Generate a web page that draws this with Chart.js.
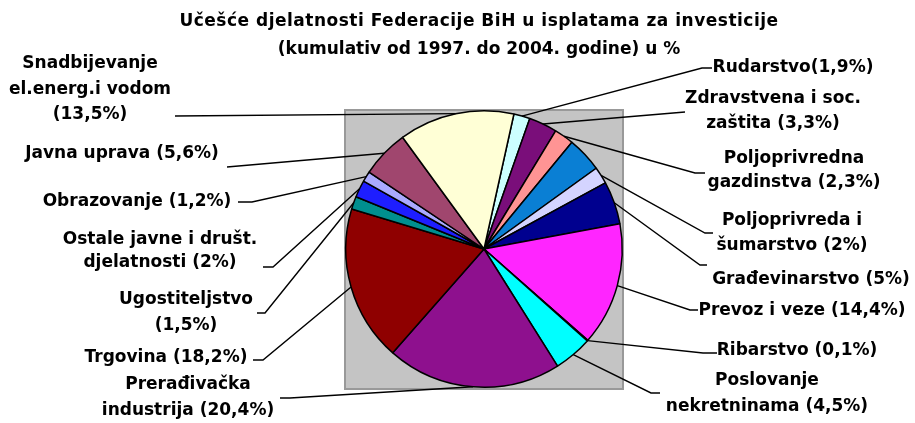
<!DOCTYPE html>
<html>
<head>
<meta charset="utf-8">
<title>Učešće djelatnosti Federacije BiH u isplatama za investicije</title>
<script src="https://cdn.jsdelivr.net/npm/chart.js@4.4.1/dist/chart.umd.min.js"></script>
<style>
  html, body { margin: 0; padding: 0; background: #fff; }
  #wrap { width: 915px; height: 423px; }
</style>
</head>
<body>
<div id="wrap"><canvas id="chart" width="915" height="423"></canvas></div>
<script>
// ── Data ────────────────────────────────────────────────────────────

const TITLE_LINES = [
  'Učešće djelatnosti Federacije BiH u isplatama za investicije',
  '(kumulativ od 1997. do 2004. godine) u %',
];

// slices clockwise, starting a little right of 12 o'clock
const CATEGORIES = [
  'Rudarstvo',
  'Zdravstvena i soc. zaštita',
  'Poljoprivredna gazdinstva',
  '',                                   // slice without a label in the original
  'Poljoprivreda i šumarstvo',
  'Građevinarstvo',
  'Prevoz i veze',
  'Ribarstvo',
  'Poslovanje nekretninama',
  'Prerađivačka industrija',
  'Trgovina',
  'Ugostiteljstvo',
  'Ostale javne i društ. djelatnosti',
  'Obrazovanje',
  'Javna uprava',
  'Snadbijevanje el.energ.i vodom',
];

const SHARES = [1.9, 3.3, 2.3, 4.1, 2, 5, 14.4, 0.1, 4.5, 20.4, 18.2, 1.5, 2, 1.2, 5.6, 13.5];

const COLORS = [
  '#CCFFFF', '#7A0E7A', '#FF9494', '#0A7FD4', '#D4D4FF', '#00008F', '#FF25FF', '#FFFF00',
  '#00FFFF', '#8E108E', '#8F0000', '#008F8F', '#1E1EFF', '#AAAAFF', '#A0466E', '#FFFFD6',
];

const LABEL_LINES = [
  ['Rudarstvo(1,9%)'],
  ['Zdravstvena i soc.', 'zaštita (3,3%)'],
  ['Poljoprivredna', 'gazdinstva (2,3%)'],
  null,
  ['Poljoprivreda i', 'šumarstvo (2%)'],
  ['Građevinarstvo (5%)'],
  ['Prevoz i veze (14,4%)'],
  ['Ribarstvo (0,1%)'],
  ['Poslovanje', 'nekretninama (4,5%)'],
  ['Prerađivačka', 'industrija (20,4%)'],
  ['Trgovina (18,2%)'],
  ['Ugostiteljstvo', '(1,5%)'],
  ['Ostale javne i društ.', 'djelatnosti (2%)'],
  ['Obrazovanje (1,2%)'],
  ['Javna uprava (5,6%)'],
  ['Snadbijevanje', 'el.energ.i vodom', '(13,5%)'],
];

// ── Label placement (x,y = centre of first line, ax/ay = leader end) ─

const LABEL_LAYOUT = [
  { x: 793, y: 68,  gap: 0,    ax: 712, ay: 68,  stub: 10 },
  { x: 773, y: 99,  gap: 25,   ax: 685, ay: 112, stub: 0  },
  { x: 794, y: 159, gap: 23.5, ax: 705, ay: 173, stub: 10 },
  null,
  { x: 792, y: 221, gap: 25,   ax: 713, ay: 233, stub: 8  },
  { x: 811, y: 280, gap: 0,    ax: 707, ay: 265, stub: 7  },
  { x: 802, y: 311, gap: 0,    ax: 698, ay: 310, stub: 8  },
  { x: 797, y: 351, gap: 0,    ax: 717, ay: 353, stub: 14 },
  { x: 767, y: 381, gap: 26,   ax: 660, ay: 393, stub: 9  },
  { x: 188, y: 385, gap: 25.5, ax: 280, ay: 398, stub: 10 },
  { x: 166, y: 358, gap: 0,    ax: 253, ay: 360, stub: 10 },
  { x: 186, y: 300, gap: 25.5, ax: 257, ay: 313, stub: 8  },
  { x: 160, y: 240, gap: 23,   ax: 263, ay: 267, stub: 10 },
  { x: 137, y: 202, gap: 0,    ax: 238, ay: 202, stub: 14 },
  { x: 122, y: 154, gap: 0,    ax: 227, ay: 167, stub: 0  },
  { x: 90,  y: 64,  gap: 25.5, ax: 175, ay: 116, stub: 0  },
];

const FONT = "bold 17px 'DejaVu Sans', Verdana, sans-serif";
const TITLE_SPACING = ['0.5px', '0px'];

// ── Plugins ─────────────────────────────────────────────────────────

// grey plot area behind the pie
const plotBox = {
  id: 'plotBox',
  beforeDatasetsDraw(chart) {
    const { ctx, chartArea: a } = chart;
    ctx.save();
    ctx.fillStyle = '#C4C4C4';
    ctx.fillRect(a.left, a.top, a.width, a.height + 1);
    ctx.strokeStyle = '#999999';
    ctx.lineWidth = 2;
    ctx.strokeRect(a.left, a.top, a.width, a.height + 1);
    ctx.restore();
  }
};

// title, outside labels and leader lines
const outsideLabels = {
  id: 'outsideLabels',
  afterDatasetsDraw(chart) {
    const ctx  = chart.ctx;
    const meta = chart.getDatasetMeta(0);

    ctx.save();
    ctx.font = FONT;
    ctx.fillStyle = '#000';
    ctx.textAlign = 'center';
    ctx.textBaseline = 'middle';
    TITLE_LINES.forEach((t, i) => {
      ctx.letterSpacing = TITLE_SPACING[i];
      ctx.fillText(t, 479, 22 + i * 28);
    });
    ctx.letterSpacing = '0px';

    ctx.strokeStyle = '#000';
    ctx.lineWidth = 1.4;
    meta.data.forEach((arc, i) => {
      const lay = LABEL_LAYOUT[i];
      const lines = LABEL_LINES[i];
      if (!lay || !lines) return;
      const p = arc.getProps(['x', 'y', 'startAngle', 'endAngle', 'outerRadius'], true);
      const mid = (p.startAngle + p.endAngle) / 2;
      const px = p.x + Math.cos(mid) * p.outerRadius;
      const py = p.y + Math.sin(mid) * p.outerRadius;
      const dir = lay.ax < p.x ? 1 : -1;

      ctx.beginPath();
      ctx.moveTo(px, py);
      ctx.lineTo(lay.ax + dir * lay.stub, lay.ay);
      ctx.lineTo(lay.ax, lay.ay);
      ctx.stroke();

      lines.forEach((t, k) => ctx.fillText(t, lay.x, lay.y + k * lay.gap));
    });
    ctx.restore();
  }
};

// ── Chart ───────────────────────────────────────────────────────────

new Chart(document.getElementById('chart'), {
  type: 'pie',
  data: {
    labels: CATEGORIES,
    datasets: [{
      data: SHARES,
      backgroundColor: COLORS,
      borderColor: '#000',
      borderWidth: 1.5,
    }]
  },
  options: {
    responsive: false,
    devicePixelRatio: 1,
    animation: false,
    rotation: 12.5,
    layout: { padding: { left: 345, right: 292, top: 110, bottom: 35 } },
    plugins: {
      legend:  { display: false },
      tooltip: { enabled: false },
      title:   { display: false },
    }
  },
  plugins: [plotBox, outsideLabels]
});
</script>
</body>
</html>
